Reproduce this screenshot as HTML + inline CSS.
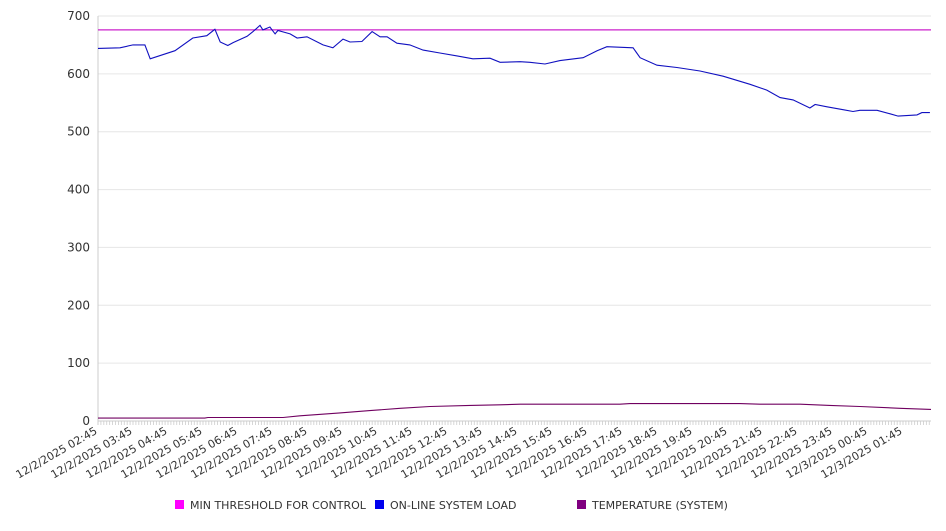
<!DOCTYPE html>
<html><head><meta charset="utf-8"><style>
body{margin:0;background:#fff;width:946px;height:526px;overflow:hidden;font-family:"Liberation Sans","DejaVu Sans",sans-serif}
svg text{font-family:"DejaVu Sans","Liberation Sans",sans-serif;fill:#333}
</style></head><body>
<svg id="chart" width="946" height="526" xmlns="http://www.w3.org/2000/svg"></svg>
<script>
const tickLabels=["12/2/2025 02:45","12/2/2025 03:45","12/2/2025 04:45","12/2/2025 05:45","12/2/2025 06:45","12/2/2025 07:45","12/2/2025 08:45","12/2/2025 09:45","12/2/2025 10:45","12/2/2025 11:45","12/2/2025 12:45","12/2/2025 13:45","12/2/2025 14:45","12/2/2025 15:45","12/2/2025 16:45","12/2/2025 17:45","12/2/2025 18:45","12/2/2025 19:45","12/2/2025 20:45","12/2/2025 21:45","12/2/2025 22:45","12/2/2025 23:45","12/3/2025 00:45","12/3/2025 01:45"];
const yTicks=[0,100,200,300,400,500,600,700];
const threshold=676;
const loadHours=[0,.63,1,1.34,1.49,2.2,2.71,3.11,3.34,3.49,3.71,3.86,4.26,4.43,4.63,4.71,4.91,5.06,5.14,5.49,5.69,5.97,6.43,6.71,7,7.2,7.54,7.83,8.06,8.26,8.54,8.91,9.29,9.77,10.26,10.71,11.2,11.49,12.06,12.34,12.77,13.2,13.86,14.26,14.54,15.29,15.49,15.97,16.54,17.2,17.86,18.63,19.11,19.49,19.86,20.34,20.49,20.83,21.29,21.57,21.77,22.26,22.63,22.86,23.4,23.54,23.77];
const loadValues=[644,645,650,650,626,640,662,666,677,655,649,654,665,673,684,676,681,669,675,669,662,664,650,645,660,655,656,673,664,664,653,650,641,636,631,626,627,620,621,620,617,623,628,640,647,645,628,615,611,605,596,582,572,559,555,541,547,543,538,535,537,537,531,527,529,533,533];
const tempHours=[0,3.05,3.14,5.29,5.77,6.91,7.77,8.63,9.49,10.63,11.49,12.06,14.91,15.2,18.34,18.91,20.06,20.91,21.77,22.91,23.8];
const tempValues=[5,5,6,6,9,14,18,22,25,27,28,29,29,30,30,29,29,27,25,22,20];

const NS="http://www.w3.org/2000/svg";
const svg=document.getElementById('chart');
const X0=98,X1=931,Y0=421,Y1=16,HMAX=23.8,YMAX=700;
const xs=h=>X0+h*(X1-X0)/HMAX;
const ys=v=>Y0-v*(Y0-Y1)/YMAX;
function mk(tag,attrs,parent){const e=document.createElementNS(NS,tag);for(const k in attrs)e.setAttribute(k,attrs[k]);(parent||svg).appendChild(e);return e;}

yTicks.forEach(v=>{
  const g=mk('line',{x1:X0,x2:X1,y1:ys(v),y2:ys(v),stroke:v===0?'#ccc':'#e6e6e6','stroke-width':1});
  
  
  const t=mk('text',{x:90,y:ys(v)+4,'text-anchor':'end','font-size':12});
  t.textContent=v;
  
  
});
const ax=mk('line',{x1:X0,x2:X0,y1:Y1,y2:Y0+4,stroke:'#ccc'});


for(let m=0;m<=HMAX*12;m++){
  const x=xs(m/12);
  const tk=mk('line',{x1:x,x2:x,y1:Y0,y2:Y0+4,stroke:'#ccc','stroke-width':0.8});
  
  
}
tickLabels.forEach((s,i)=>{
  const x=xs(i);
  const t=mk('text',{x:x,y:Y0+12,'text-anchor':'end','font-size':11,transform:`rotate(-30 ${x} ${Y0+12})`});
  t.textContent=s;
  
  
});
const th=mk('line',{x1:X0,x2:X1,y1:ys(threshold),y2:ys(threshold),stroke:'#cc22cc','stroke-width':1.2});


function path(hs,vs,color,name){
  const d=hs.map((h,i)=>(i?'L':'M')+xs(h).toFixed(1)+' '+ys(vs[i]).toFixed(1)).join(' ');
  const p=mk('path',{d:d,fill:'none',stroke:color,'stroke-width':1.1});
  
  
}
path(loadHours,loadValues,'#1010c0','online-system-load-line');
path(tempHours,tempValues,'#700060','temperature-line');

const legend=[['MIN THRESHOLD FOR CONTROL','#ff00ff',175],['ON-LINE SYSTEM LOAD','#0000ee',375],['TEMPERATURE (SYSTEM)','#800080',577]];
legend.forEach(([lab,col,x])=>{
  const g=mk('g',{});
  
  
  mk('rect',{x:x,y:500,width:9,height:9,fill:col},g);
  const t=mk('text',{x:x+15,y:509,'font-size':11},g);
  t.textContent=lab;
});
</script>
</body></html>
